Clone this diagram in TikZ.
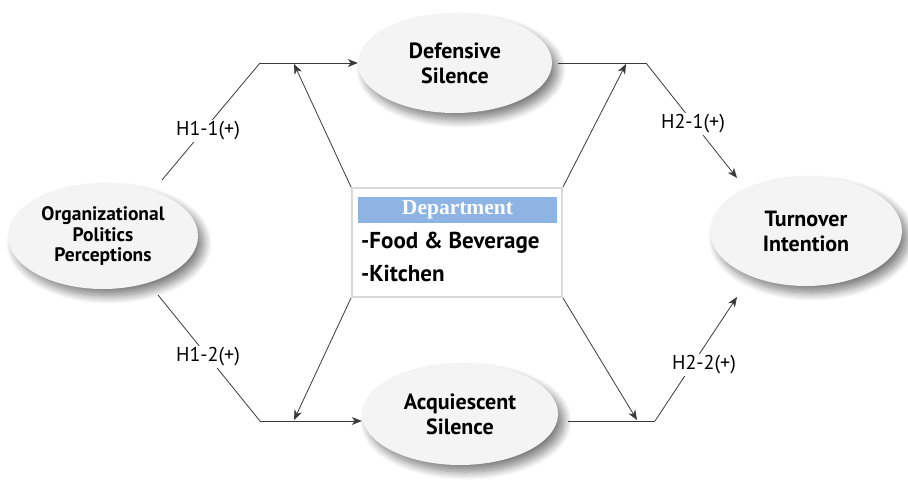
\documentclass[tikz,border=0pt]{standalone}
\usepackage{fontspec}
\setmainfont{PT Sans}
\newfontfamily\hdrfont{Liberation Serif}
\usetikzlibrary{shapes.geometric,arrows.meta,shadows.blur}
\definecolor{ellfill}{HTML}{F4F4F4}
\definecolor{hdrblue}{HTML}{8DB4E2}
\definecolor{boxline}{HTML}{D9D9D9}
\definecolor{lineg}{HTML}{3A3A3A}
\tikzset{
  ell/.style={ellipse, fill=ellfill, inner sep=0pt, align=center,
    font=\bfseries\fontsize{22}{25}\selectfont,
    blur shadow={shadow xshift=6pt, shadow yshift=-7pt, shadow blur steps=12,
      shadow blur radius=8pt, shadow opacity=50}},
  hlab/.style={fill=white, inner sep=2pt, font=\fontsize{20}{22}\selectfont},
  conn/.style={draw=lineg, line width=0.8pt},
  arr/.style={conn, -{Stealth[length=10pt,width=8pt,inset=3pt]}},
}
\begin{document}
\begin{tikzpicture}[x=1pt,y=-1pt]
\useasboundingbox (0,0) rectangle (908,496);
% nodes
\node[ell, minimum width=190pt, minimum height=106pt, font=\bfseries\fontsize{19.5}{20.5}\selectfont] (opp) at (103,236) {Organizational\\Politics\\Perceptions};
\node[ell, minimum width=194pt, minimum height=100pt] (def) at (455,63) {Defensive\\Silence};
\node[ell, minimum width=196pt, minimum height=102pt] (acq) at (460,414) {Acquiescent\\Silence};
\node[ell, minimum width=192pt, minimum height=110pt] (ti) at (806,231) {Turnover\\Intention};
\node[draw=boxline, line width=2pt, fill=white, minimum width=210pt, minimum height=109pt, inner sep=0pt] (dept) at (457,242.5) {};
\node[fill=hdrblue, minimum width=199pt, minimum height=26pt, inner sep=0pt, text=white, font=\hdrfont\bfseries\fontsize{21.5}{22}\selectfont] (hdr) at (457.5,210) {Department};
\node[anchor=west, inner sep=0pt, font=\bfseries\fontsize{23}{24}\selectfont] (it1) at (361,243) {-Food \& Beverage};
\node[anchor=west, inner sep=0pt, font=\bfseries\fontsize{23}{24}\selectfont] (it2) at (361,273) {-Kitchen};
% labels
\node[hlab] (h11) at (208,131) {H1-1(+)};
\node[hlab] (h12) at (208,357) {H1-2(+)};
\node[hlab] (h21) at (693,124) {H2-1(+)};
\node[hlab] (h22) at (704,365) {H2-2(+)};
% coordinates
\coordinate (s1) at (162,180);
\coordinate (c1) at (260,63);
\coordinate (s3) at (158,295);
\coordinate (c3) at (260,421);
\coordinate (c5) at (646,63);
\coordinate (t5) at (737,178);
\coordinate (c8) at (655,421);
\coordinate (t8) at (737,297);
\coordinate (j1) at (294,64);
\coordinate (j2) at (294,420);
\coordinate (j3) at (626,64);
\coordinate (j4) at (637,420);
\coordinate (e5) at (558,63);
\coordinate (e8) at (568,421);
% connectors
\draw[conn] (s1) -- (c1);
\draw[arr] (c1) -- (def.west);
\draw[conn] (s3) -- (c3);
\draw[arr] (c3) -- (acq.west |- c3);
\draw[conn] (e5) -- (c5);
\draw[arr] (c5) -- (t5);
\draw[conn] (e8) -- (c8);
\draw[arr] (c8) -- (t8);
\draw[arr] (dept.north west) -- (j1);
\draw[arr] (dept.south west) -- (j2);
\draw[arr] (dept.north east) -- (j3);
\draw[arr] (dept.south east) -- (j4);
% label masks redrawn on top
\node[hlab] at (h11) {H1-1(+)};
\node[hlab] at (h12) {H1-2(+)};
\node[hlab] at (h21) {H2-1(+)};
\node[hlab] at (h22) {H2-2(+)};
\end{tikzpicture}
\end{document}
